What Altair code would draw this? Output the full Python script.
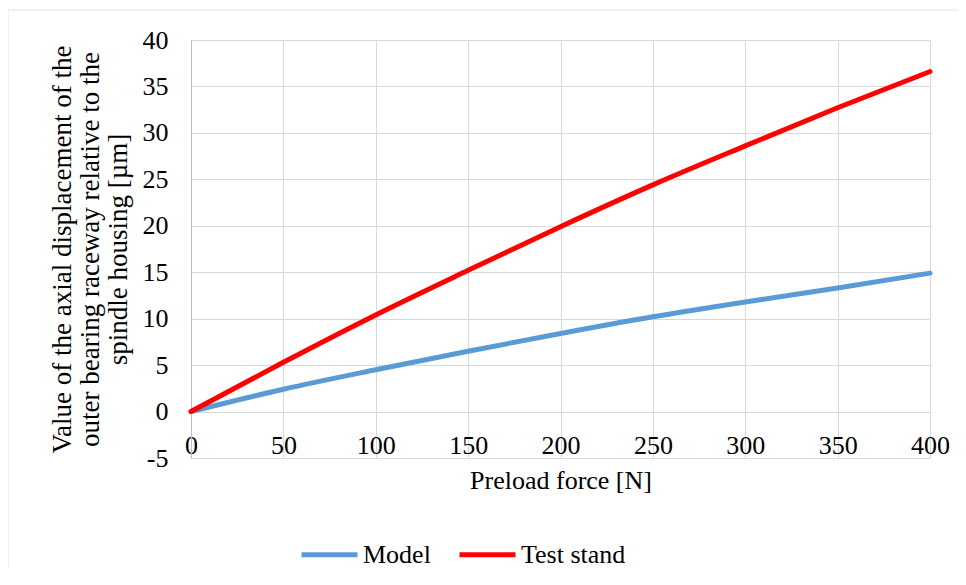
import altair as alt
import pandas as pd

# Data
preload_force = [0, 50, 100, 150, 200, 250, 300, 350, 400]
model_values = [0, 2.4, 4.5, 6.5, 8.4, 10.2, 11.8, 13.3, 14.9]
test_stand_values = [0, 5.3, 10.4, 15.2, 19.9, 24.4, 28.6, 32.7, 36.6]
series_names = ["Model", "Test stand"]
series_colors = ["#5b9bd5", "#ff0000"]
x_ticks = [0, 50, 100, 150, 200, 250, 300, 350, 400]
y_ticks = [-5, 0, 5, 10, 15, 20, 25, 30, 35, 40]

rows = []
for f, v in zip(preload_force, model_values):
    rows.append({"force": f, "value": v, "series": "Model"})
for f, v in zip(preload_force, test_stand_values):
    rows.append({"force": f, "value": v, "series": "Test stand"})
df = pd.DataFrame(rows)

FONT = "Liberation Serif"
FS = 26

lines = alt.Chart(df).mark_line(
    strokeWidth=5, strokeCap="round", strokeJoin="round", interpolate="monotone"
).encode(
    x=alt.X(
        "force:Q",
        scale=alt.Scale(domain=[0, 400], nice=False, zero=False),
        axis=alt.Axis(
            values=x_ticks,
            title="Preload force [N]",
            grid=True,
            gridColor="#d9d9d9",
            gridWidth=1,
            domain=False,
            ticks=False,
            labelBaseline="alphabetic",
            labelPadding=-5,
            labelFlush=False,
            labelOverlap=False,
            labelFont=FONT,
            labelFontSize=FS,
            labelColor="#000000",
            titleFont=FONT,
            titleFontSize=FS,
            titleFontWeight="normal",
            titleColor="#000000",
            titleBaseline="alphabetic",
            titleX=369.5,
            titleY=30,
            titleAnchor="middle",
        ),
    ),
    y=alt.Y(
        "value:Q",
        scale=alt.Scale(domain=[-5, 40], nice=False, zero=False),
        axis=alt.Axis(
            values=y_ticks,
            labelExpr="'' + datum.value",
            title=[
                "Value of the axial displacement of the",
                "outer bearing  raceway relative to the",
                "spindle housing [µm]",
            ],
            grid=True,
            gridColor="#d9d9d9",
            gridWidth=1,
            domain=True,
            domainColor="#bfbfbf",
            domainWidth=1,
            ticks=False,
            labelPadding=23,
            labelFlush=False,
            labelOverlap=False,
            labelFont=FONT,
            labelFontSize=FS,
            labelColor="#000000",
            titleFont=FONT,
            titleFontSize=27,
            titleFontWeight="normal",
            titleColor="#000000",
            titleAngle=-90,
            titleAlign="center",
            titleBaseline="top",
            titleLineHeight=28,
            titleX=-142,
            titleY=209,
        ),
    ),
    color=alt.Color(
        "series:N",
        scale=alt.Scale(domain=series_names, range=series_colors),
        legend=alt.Legend(
            title=None,
            orient="none",
            direction="horizontal",
            legendX=108,
            legendY=484,
            symbolType="stroke",
            symbolSize=3136,
            symbolStrokeWidth=5,
            labelFont=FONT,
            labelFontSize=FS,
            labelColor="#000000",
            labelOffset=3,
            columnPadding=18,
        ),
    ),
)

border_df = pd.DataFrame({"a": [0]})
border_top = alt.Chart(border_df).mark_rule(color="#e3e3e3", strokeWidth=1).encode(
    x=alt.value(-183), x2=alt.value(780), y=alt.value(-30), y2=alt.value(-30)
)
border_left = alt.Chart(border_df).mark_rule(color="#e3e3e3", strokeWidth=1).encode(
    x=alt.value(-183), x2=alt.value(-183), y=alt.value(-30), y2=alt.value(530)
)

chart = alt.layer(border_top, border_left, lines).properties(
    width=739,
    height=418,
    padding={"left": 183, "top": 32, "right": 28, "bottom": 110},
    autosize=alt.AutoSizeParams(type="none"),
).configure_view(stroke=None).configure(background="#ffffff")

chart.save("out.html", embed_options={"renderer": "svg", "actions": False})
